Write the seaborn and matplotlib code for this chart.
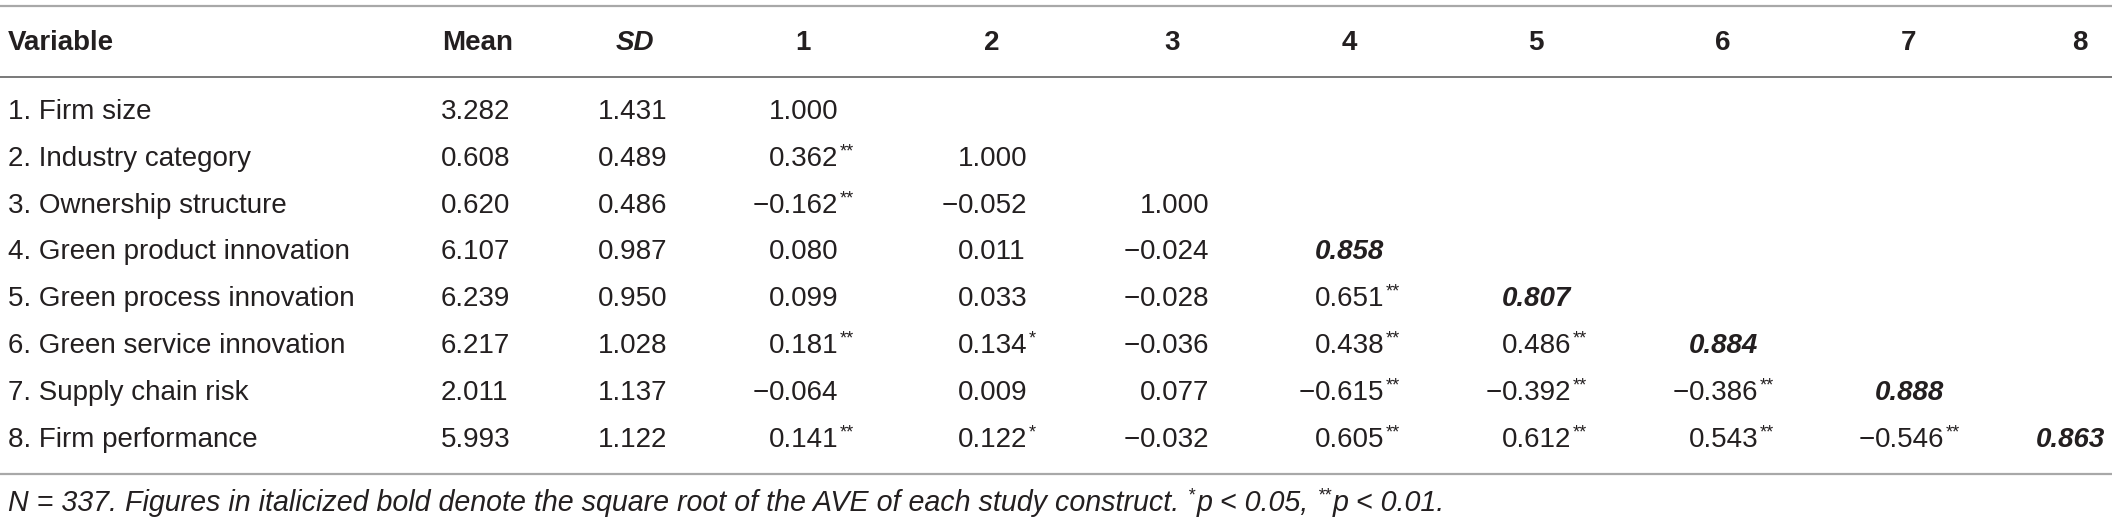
import seaborn as sns
import matplotlib.pyplot as plt

# table content
variables = ["1. Firm size", "2. Industry category", "3. Ownership structure",
             "4. Green product innovation", "5. Green process innovation",
             "6. Green service innovation", "7. Supply chain risk",
             "8. Firm performance"]
means = [3.282, 0.608, 0.620, 6.107, 6.239, 6.217, 2.011, 5.993]
sds = [1.431, 0.489, 0.486, 0.987, 0.950, 1.028, 1.137, 1.122]
corr_values = [
    [1.000],
    [0.362, 1.000],
    [-0.162, -0.052, 1.000],
    [0.080, 0.011, -0.024, 0.858],
    [0.099, 0.033, -0.028, 0.651, 0.807],
    [0.181, 0.134, -0.036, 0.438, 0.486, 0.884],
    [-0.064, 0.009, 0.077, -0.615, -0.392, -0.386, 0.888],
    [0.141, 0.122, -0.032, 0.605, 0.612, 0.543, -0.546, 0.863],
]
corr_stars = [
    [""],
    ["**", ""],
    ["**", "", ""],
    ["", "", "", ""],
    ["", "", "", "**", ""],
    ["**", "*", "", "**", "**", ""],
    ["", "", "", "**", "**", "**", ""],
    ["**", "*", "", "**", "**", "**", "**", ""],
]
# constructs whose diagonal is the square root of the AVE
ave_rows = [3, 4, 5, 6, 7]
headers = ["Variable", "Mean", "SD", "1", "2", "3", "4", "5", "6", "7", "8"]
# footnote pieces: (text, superscript?)
footnote_parts = [
    ("N = 337. Figures in italicized bold denote the square root of the "
     "AVE of each study construct. ", False),
    ("*", True), ("p < 0.05, ", False), ("**", True), ("p < 0.01.", False),
]

# layout in pixels
W, H = 2121, 528
var_x = 8
num_left = [441, 598, 769, 958, 1140, 1315, 1502, 1689, 1875, 2036]
head_center = [478, 635, 803, 992, 1172, 1349, 1536, 1723, 1909, 2080]
head_y = 43
row_y0, row_dy = 112, 46.8
FS = 20
TXT = "#231f20"

sns.set_theme(style="white")
plt.rcParams["font.family"] = ["Liberation Sans", "DejaVu Sans"]

fig = plt.figure(figsize=(W / 100, H / 100), dpi=100)
ax = fig.add_axes([0, 0, 1, 1])
ax.set_xlim(0, W)
ax.set_ylim(H, 0)
ax.axis("off")
renderer = fig.canvas.get_renderer()


def right_end(t):
    bb = t.get_window_extent(renderer)
    return ax.transData.inverted().transform((bb.x1, bb.y0))[0]


def put_number(x, y, v, stars="", weight="normal", style="normal"):
    s = f"{abs(v):.3f}"
    t = ax.text(x, y, s, ha="left", va="center", fontsize=FS, color=TXT,
                fontweight=weight, fontstyle=style)
    if v < 0:
        ax.text(x, y, "\u2212", ha="right", va="center", fontsize=FS,
                color=TXT, fontweight=weight, fontstyle=style)
    if stars:
        ax.text(right_end(t) + 1, y - 7, stars, ha="left", va="center",
                fontsize=13, color=TXT)


# rules
ax.plot([0, 2112], [6, 6], color="#a8a8a8", lw=1.6, solid_capstyle="butt")
ax.plot([0, 2112], [77, 77], color="#6e6e6e", lw=1.3, solid_capstyle="butt")
ax.plot([0, 2112], [474, 474], color="#a8a8a8", lw=1.6, solid_capstyle="butt")

# header
ax.text(var_x, head_y, headers[0], ha="left", va="center", fontsize=FS,
        fontweight="bold", color=TXT)
for i, h in enumerate(headers[1:]):
    ax.text(head_center[i], head_y, h, ha="center", va="center", fontsize=FS,
            fontweight="bold", fontstyle="italic" if h == "SD" else "normal",
            color=TXT)

# body
for r, name in enumerate(variables):
    y = row_y0 + r * row_dy
    ax.text(var_x, y, name, ha="left", va="center", fontsize=FS, color=TXT)
    put_number(num_left[0], y, means[r])
    put_number(num_left[1], y, sds[r])
    for c, v in enumerate(corr_values[r]):
        bold = (c == r) and r in ave_rows
        put_number(num_left[2 + c], y, v, corr_stars[r][c],
                   weight="bold" if bold else "normal",
                   style="italic" if bold else "normal")

# footnote
fx, fy = var_x, 503
for txt, sup in footnote_parts:
    if sup:
        t = ax.text(fx + 1, fy - 7, txt, ha="left", va="center", fontsize=13,
                    fontstyle="italic", color=TXT)
    else:
        t = ax.text(fx, fy, txt, ha="left", va="center", fontsize=20.6,
                    fontstyle="italic", color=TXT)
    fx = right_end(t) + (1 if sup else 0)

fig.savefig("out.png", dpi=100, facecolor="white")
